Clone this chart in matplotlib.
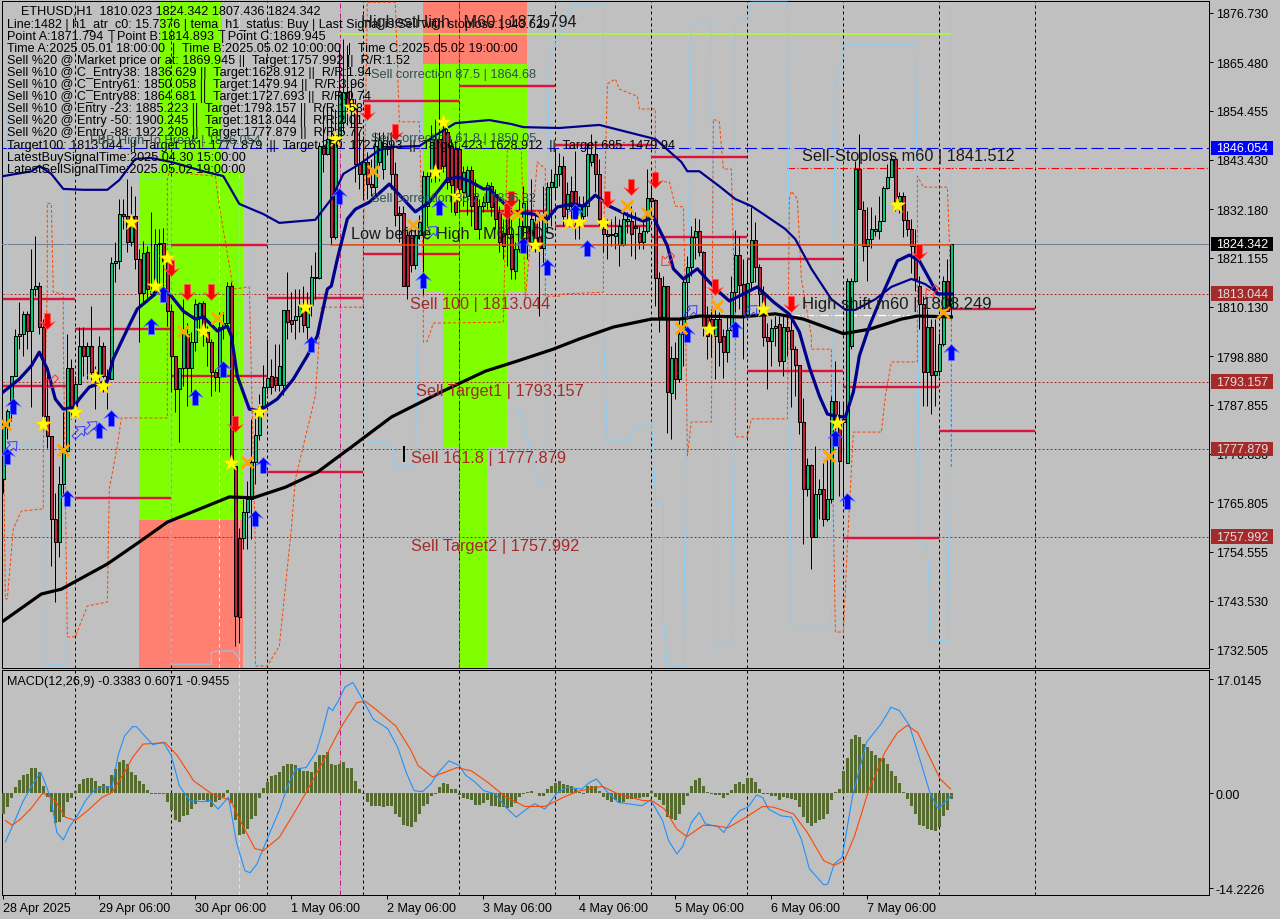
import matplotlib
matplotlib.use("Agg")
import matplotlib.pyplot as plt
from matplotlib.path import Path
from matplotlib.patches import Rectangle
from matplotlib.transforms import Affine2D, blended_transform_factory

plt.rcParams['font.family'] = ['Liberation Sans', 'DejaVu Sans']
NA = float('nan')

# ---------- candles: (open, high, low, close), one list per stretch of the chart ----------
candles_apr28 = [
(1771,1784,1768,1783),(1782.8,1786.9,1780.1,1786.5),(1786.5,1794.5,1784.3,1794.5),(1794.5,1805,1794.5,1803.5),
(1803.5,1811.1,1800.5,1803.9),(1803.9,1809.2,1799,1808.4),(1808.4,1809.2,1800.5,1804.6),(1804.6,1823.1,1787.3,1814.2),
(1814.2,1826.2,1812.6,1814.7),(1814.8,1815.6,1803.9,1805.4),(1805.4,1807.3,1785.4,1785.4),(1785.4,1796,1778.2,1780.9),
(1780.9,1780.9,1751.4,1762),(1762,1768,1743.1,1756.7),(1756.7,1774.1,1753.3,1769.9),(1769.9,1786.2,1767.7,1777.5),
(1777.5,1803.9,1777.1,1796.3),(1796.3,1798.2,1784.6,1787.7),(1787.7,1794.5,1786.2,1792.6),(1792.6,1805.4,1792.6,1801.1),
(1801.1,1805.4,1794.5,1799),(1799,1802,1793.7,1801.1),(1801.1,1810.3,1792.2,1795.2),(1795.2,1796.7,1786.9,1793.7),
]
candles_apr29 = [
(1794.5,1803.5,1792.2,1801.1),(1801.1,1802,1790.7,1794.5),(1794.5,1796,1786.9,1793.7),(1793.7,1821.3,1793.7,1820.1),
(1820.1,1824.7,1815.6,1820.5),(1820.5,1834.5,1818.6,1831.2),(1831.2,1834.5,1827.7,1830.7),(1830.7,1839,1822.4,1824.7),
(1824.7,1837.5,1823.9,1830.7),(1830.7,1835.2,1818.6,1820.9),(1820.9,1823.1,1802,1813.3),(1813.3,1825,1811.1,1822.2),
(1822.4,1823.9,1811.1,1814.1),(1812.9,1831.5,1812.6,1813.7),(1813.3,1827.7,1812.9,1824.3),(1824.3,1827.7,1814.8,1824.5),
(1824.5,1828,1814.1,1820.5),(1820.5,1821.6,1805.8,1809.2),(1809.2,1810.7,1790.7,1799),(1799,1799,1786.2,1791.4),
(1791.4,1796.3,1779.4,1796.3),(1796.3,1811.8,1792.2,1804.3),(1803.9,1806.5,1787.7,1796.3),(1796.3,1804.3,1790.7,1802),
]
candles_apr30 = [
(1802,1811.8,1800.1,1810.7),(1807.7,1811.1,1804.3,1810.9),(1810.9,1811.4,1801.3,1804.3),(1804.3,1805.8,1796.7,1802),
(1802.2,1802.8,1789.9,1795.4),(1795.4,1796,1791.1,1794.1),(1794.1,1808.8,1790.7,1805.4),(1805.4,1808.8,1802.8,1806.4),
(1806.4,1815.6,1805.8,1814.7),(1814.7,1815.6,1774.1,1774.1),(1774.1,1774.1,1733.3,1740.1),(1757.8,1760,1734,1739.7),
(1757.8,1766.5,1755.2,1763.5),(1763.5,1770.7,1755.2,1766.5),(1766.5,1784.6,1757.5,1775),(1775,1787,1770,1781),
(1781,1790.3,1780,1787.5),(1787.5,1797,1785,1792),(1792,1802.7,1790.3,1794),(1794.5,1798.3,1790.3,1792),
(1794.2,1801.6,1791,1792.4),(1792.4,1801.6,1791,1796.6),(1792.4,1809.3,1790,1809.3),(1809.3,1817.9,1802.8,1806.6),
]
candles_may01 = [
(1807,1813.4,1804.4,1806.2),(1807,1814.2,1802.8,1808.1),(1808.1,1814.2,1804.4,1810.4),(1810.4,1814.9,1804.4,1805.9),
(1805.5,1813.4,1802.8,1810.4),(1810.4,1819.5,1808.1,1816.8),(1816.8,1822.5,1811.9,1816.6),(1816.6,1847.4,1816.4,1846.6),
(1846.6,1855.7,1840.6,1844.6),(1844.6,1855.7,1844.4,1848.2),(1848.2,1855.7,1824,1825.9),(1825.9,1855,1825.5,1848.2),
(1848.2,1868.5,1846.6,1858.7),(1851.9,1870.8,1849.7,1858.7),(1858.7,1869.3,1851.2,1855.7),(1857.2,1861,1850.8,1855),
(1855,1857.2,1838.3,1842.5),(1842.5,1849.7,1836.8,1840.2),(1840.2,1848.9,1834.6,1842.9),(1842.9,1845.1,1834.6,1838),
(1838,1843.6,1835.3,1837.2),(1837.2,1849.7,1835.3,1846.6),(1842.9,1849.7,1842.1,1847.8),(1841.4,1849.7,1839.1,1846.6),
]
candles_may02 = [
(1846.6,1848.9,1844.4,1845.9),(1846.3,1849.7,1836.8,1840.2),(1840.2,1842.9,1828.5,1830.8),(1831.4,1833,1824.7,1831),
(1831.4,1833,1814.9,1814.9),(1826.3,1827.8,1811.9,1814.9),(1826.3,1828.5,1818,1819.5),(1819.5,1827.8,1818.7,1826.3),
(1826.3,1830.8,1825.5,1829.3),(1826.3,1840.9,1812.7,1839.8),(1833,1840.6,1828.5,1839.8),(1839.8,1851.2,1838.3,1848.2),
(1848.2,1852.7,1838.3,1840.6),(1848.2,1871.8,1838.7,1841),(1850.4,1852.7,1840.6,1842.1),(1849.7,1851.2,1836.8,1838.3),
(1846.6,1848.2,1831.5,1837.6),(1845.9,1846.6,1830.8,1831.5),(1845.9,1846.6,1831.5,1836.8),(1836,1842.1,1833,1840.6),
(1835.3,1842.1,1830.8,1841),(1841,1842.1,1828.5,1833),(1835.3,1839.1,1827.8,1827.8),(1827.8,1834.6,1825.5,1833),
]
candles_may03 = [
(1833,1835.3,1831.5,1833.8),(1833.8,1838.3,1832.3,1837.6),(1837.5,1838.3,1830.7,1832.6),(1835.6,1836.7,1827.7,1830),
(1831.5,1833,1822.4,1824.7),(1826.9,1829.9,1820.9,1823.9),(1830.7,1832.2,1819.4,1826.6),(1826.6,1829.9,1816.4,1818.6),
(1818.3,1824.7,1816.4,1823.2),(1823.2,1834.5,1822.4,1828.4),(1828.4,1837.5,1826.2,1833.7),(1828.4,1834.5,1820.9,1824.3),
(1824.7,1839,1823.2,1829.9),(1829.2,1831.5,1822.4,1824.7),(1825.8,1831.5,1808.1,1823.5),(1823.5,1837.5,1820.1,1829.9),
(1829.9,1838.3,1826.9,1837.3),(1837.3,1841.3,1828.4,1838.3),(1837.3,1845.8,1834.5,1840.1),(1840.1,1845,1837.5,1842),
(1842,1844.3,1828.4,1830.7),(1832.2,1838.3,1830,1835.6),(1836.4,1839.8,1829.2,1833),(1836.4,1845.4,1825.4,1832.2),
]
candles_may04 = [
(1829.9,1835.2,1825.4,1833),(1830.7,1835.2,1829.2,1833),(1833,1847.3,1830.7,1844.7),(1842.8,1849.2,1842,1844.7),
(1844.7,1846.6,1836,1840.1),(1840.1,1843.5,1827.7,1829.9),(1827.7,1829.9,1822.4,1826.6),(1826.6,1829.9,1820.9,1826.2),
(1826.6,1829.9,1823.9,1826.3),(1826.2,1830.7,1823.2,1826.9),(1824,1829.9,1819.4,1828.4),(1824,1831.5,1823.9,1829.9),
(1829.6,1831.5,1826.9,1829.9),(1829.6,1833,1821.6,1826.6),(1828.4,1831.5,1820.9,1828),(1826.7,1828.4,1823.2,1824.7),
(1824.7,1829.9,1823.2,1827.3),(1827.3,1841.3,1826.9,1834.7),(1834.7,1837.5,1829.9,1834.1),(1834.3,1834.5,1810.3,1816.7),
(1816.7,1817.9,1804.3,1807.7),(1807.7,1817.1,1807.3,1814.8),(1814.8,1814.8,1781.6,1790.7),(1790.5,1801.3,1780.1,1798.4),
]
candles_may05 = [
(1798.4,1802,1789.2,1793.7),(1793.7,1807.3,1793,1803.9),(1803.9,1816.4,1796.7,1815.6),(1815.6,1821.6,1807.3,1819),
(1819,1828.4,1817.1,1825.8),(1825.8,1830.3,1820.9,1827.3),(1827.3,1829.9,1821.6,1822.4),(1822.4,1822.8,1803.5,1805.8),
(1808.1,1810.3,1798.2,1803.5),(1807.3,1809.6,1798.6,1805.8),(1803.5,1809.6,1793.7,1807.3),(1807.3,1808.8,1796.7,1802),
(1803.5,1805,1794,1799.9),(1799.9,1808,1797.5,1804.8),(1804.8,1817.1,1804.6,1813.5),(1813.5,1827.6,1808.8,1821.8),
(1821.8,1826.1,1809.5,1815),(1815.2,1820.9,1798.2,1808),(1808,1820.9,1807.3,1815.4),(1815.6,1832.6,1814.1,1825.2),
(1825.2,1829.2,1815.6,1819.2),(1819.2,1819.7,1808,1812.9),(1812.9,1814.8,1801.2,1803.3),(1803.3,1806.5,1791.4,1802.4),
]
candles_may06 = [
(1802.4,1807.3,1796.7,1805.2),(1805.2,1808,1801.2,1805.8),(1806.1,1808,1796.7,1797.8),(1797.8,1808,1794.4,1805.4),
(1805.4,1808,1799,1804.6),(1804.8,1808,1787.3,1800.5),(1800.5,1801.2,1789.9,1796.8),(1796.8,1797,1781.2,1783.9),
(1783.9,1789.5,1756.3,1768.8),(1768.9,1775.9,1767.2,1774.2),(1774.2,1774.4,1750.6,1758),(1758,1778.6,1758,1767.6),
(1767.6,1771,1762,1768.9),(1768.9,1774.8,1760.5,1762),(1762,1776.3,1761.6,1766.6),(1766.6,1789.9,1765.7,1788.8),
(1788.8,1797.8,1780.8,1783.9),(1783.9,1788.8,1767.2,1775.2),(1784.6,1788.4,1765.7,1783.9),(1774.8,1816.7,1774.8,1815.9),
(1801.2,1816.7,1800.5,1815.9),(1815.9,1843.1,1815.6,1841.4),(1841.4,1849.2,1832.2,1832.2),(1832,1834,1820.5,1823.9),
]
candles_may07 = [
(1823.9,1832.6,1815.9,1825.4),(1825.4,1832.6,1823.5,1827.7),(1827.3,1831,1826.1,1827.7),(1827.3,1835.2,1825.4,1829.5),
(1829.5,1837.5,1829.5,1837.1),(1837.1,1842.4,1836.7,1839.5),(1839.5,1844.6,1839.5,1843.5),(1843.5,1843.5,1831.8,1834.1),
(1834.1,1836,1831.4,1835.2),(1835.2,1836,1825.8,1829.8),(1829.8,1831.8,1826.1,1827.8),(1827.8,1829.9,1817.8,1823.9),
(1823.9,1827.7,1813.7,1816.3),(1814.8,1817.1,1805,1810.7),(1810.7,1812.5,1787.6,1795.2),(1795.2,1809.5,1787.6,1805.4),
(1805.4,1807.3,1785.7,1794.6),(1794.6,1807.3,1787.6,1795.6),(1795.6,1804.2,1794.4,1801.6),(1801.6,1817.1,1801.2,1816),
(1816,1820.9,1809.2,1809.2),(1810.023,1824.342,1807.436,1824.342),
]
candles = (candles_apr28 + candles_apr29 + candles_apr30 + candles_may01 + candles_may02
           + candles_may03 + candles_may04 + candles_may05 + candles_may06 + candles_may07)

# ---------- indicator lines: (bar, price) ----------
upper_band = [(0,1839.7),(7,1840.8),(9,1842),(12,1840.2),(15,1836.8),(20,1836.6),(26,1836.6),(29,1838.8),(33,1843.6),(37,1843.8),
(42,1842.9),(50,1840.8),(55,1839.7),(59,1833.4),(65,1831.1),(69,1829.1),(78,1829.8),(82,1834.5),(85,1840.2),(89,1842.4),
(94,1845.6),(97,1846.3),(104,1846.5),(108.5,1849.2),(113,1851.7),(121.5,1852.4),(127,1851.5),(130,1850.8),(139,1850.6),(149,1851.3),
(159,1849),(163,1848.1),(169.5,1842.9),(171,1840.8),(174,1840.8),(179,1837.4),(183,1834.5),(187,1832.9),(190,1831.1),(195.5,1827.7),
(198,1825.4),(202,1818.7),(207,1811.8),(210.5,1809.4),(213,1809.4),(218,1811.8),(222,1814.6),(227,1816.4),(230.5,1815.2),(234,1813),(237,1813)]
tema_line = [(0,1790.8),(4,1793.7),(7,1796.7),(9,1799.8),(11,1796),(13,1789.2),(15,1786.9),(17.5,1787.2),(19,1789.2),(21.5,1791.9),
(26,1793.3),(27.5,1798.3),(31,1805),(33.5,1809.6),(38,1813),(40,1814.1),(42,1812.5),(45,1809.1),(48,1807.3),(50,1807.8),
(53.5,1804.6),(56,1805.7),(57,1803.5),(58.5,1794.4),(61.5,1786.9),(64,1786.5),(68.5,1789.2),(72.5,1793.7),(76,1799),(78.5,1803.5),
(81,1814.1),(82,1814.8),(83.5,1820.9),(86,1830),(88,1832.2),(91.5,1833.8),(96.5,1837.9),(100,1834.5),(103,1831.6),(106.5,1833.8),
(111,1839),(113.5,1839.5),(116.5,1838.6),(120,1836.8),(121.5,1836.8),(124,1834.5),(127.5,1831.6),(132.5,1831.1),(136,1830),(138.5,1832.7),
(142.5,1833.4),(145,1832.9),(148,1835.4),(151.5,1832.9),(156.5,1830.7),(160,1829.5),(162.5,1830.4),(166,1823.9),(167.5,1818.7),(170,1816.4),
(173.5,1818.7),(176.5,1815.7),(179,1813.4),(181.5,1811.4),(188.5,1814.6),(192.5,1811.2),(196.5,1808.4),(199,1804.4),(201.5,1796.4),(204,1789.9),
(206,1785.8),(208,1785.3),(210.5,1785.1),(212.5,1790.8),(214,1799),(216.5,1805.7),(220,1813.4),(223.5,1820.5),(226.5,1821.8),(229,1820.5),
(231.5,1816.4),(233.5,1813),(237,1813)]
slow_ma = [(0,1738.9),(9.5,1745),(14.5,1746.1),(26,1751.8),(34,1756.8),(41,1761.3),(56.5,1767),(62.5,1766.8),(70.5,1769.2),(78.5,1772.6),
(87,1778.3),(97,1785.1),(109.5,1790.8),(120.5,1795.5),(128.5,1797.8),(137.5,1800.5),(144,1802.8),(152.5,1805.5),(162,1807.3),(169,1807.3),
(174,1808),(184.5,1807.8),(193,1808.5),(200,1807.3),(210,1804),(216.5,1805),(224.5,1807.3),(228.5,1808),(237,1807.8)]
orange_steps = [(0,1784.7),(0.5,1743.9),(1,1743.9),(2.5,1759.7),(4.5,1763.8),(10,1764.3),(10,1778.5),(11,1814.1),(11,1833.6),(12,1833.4),
(12.5,1813.4),(15,1813),(15,1802.8),(16,1735.3),(18,1735.3),(21,1742.3),(26,1743.2),(26.5,1768.8),(28.5,1778.5),(29.5,1784.9),
(41,1784.9),(41,1839),(41.5,1840.6),(53,1839.7),(54,1832.9),(57.5,1814.1),(61.5,1814.6),(63,1755.9),(63,1728.7),(66,1728.7),
(69,1733.2),(72,1759.7),(73,1771),(78,1789.9),(79.5,1810),(90,1810),(90,1823.2),(91,1879.1),(98,1879.1),(99,1852),
(104,1852),(105,1818),(105,1802.1),(106,1802.3),(107.5,1806.4),(125,1806.6),(126,1845.8),(129.5,1845.8),(130.5,1811.8),(133.5,1842.9),
(135.5,1841.3),(135.5,1812.5),(139,1812.5),(140,1813),(150,1813.4),(150,1823.2),(151,1860.6),(153,1861.7),(154,1859.4),(158.5,1857.8),
(159,1854.9),(163,1854.9),(163,1838.4),(166.5,1838.4),(168,1832.9),(170,1832.7),(170.5,1813.4),(171,1776.3),(172,1784),(177,1784),
(177.5,1852.6),(179,1852),(180,1841.3),(182,1841.3),(183,1806.6),(183,1780.6),(186,1780.6),(187,1784.7),(196,1784.7),(196.5,1834.5),
(197,1836.3),(198.5,1834.5),(199.5,1816.4),(202,1803.5),(202,1800.5),(207,1800.5),(207,1789.2),(208,1736.4),(210,1736.4),(211,1755.9),
(212.5,1781.7),(219.5,1781.7),(220.5,1789.9),(222,1797.6),(228.5,1797.6),(228.5,1839.7),(230,1837.2),(236,1837.2),(237,1811.8),(237,1795.3),(237,1773.4)]
blue_steps = [(1,1857.2),(1,1779),(10.5,1779),(10.5,1729.1),(15.5,1729.1),(15.5,1839),(42,1839),(42,1729.1),(52,1729.1),(52,1731.8),
(53.5,1732.1),(57.5,1732.1),(59,1730.3),(59,1839),(62,1839),(62,1729.1),(64.5,1729.1),(NA,NA),(91,1857.2),(91,1779.4),(97,1779.4),
(98,1774),(103,1774),(104,1834.5),(104.5,1857.2),(NA,NA),(126,1786.9),(129,1786.9),(134,1769.5),(135.5,1769.5),
(135.5,1805),(136.5,1866.7),(142.5,1878.7),(150,1878.7),(150,1805),(151,1779.7),(156.5,1779.7),(157.5,1782.4),(162,1784),(163,1768.1),
(163,1765.8),(165,1765.8),(165,1739.3),(166,1728.5),(170,1728.5),(171,1805),(172,1874.2),(177,1874.2),(177.5,1802.8),(177.5,1733.7),
(182,1733.7),(183,1834.5),(183,1874.8),(186,1874.8),(187,1879.1),(196,1879.1),(197,1737.8),(207,1737.8),(207.5,1811.8),(208,1859.9),
(210.5,1869.6),(228,1869.6),(228.5,1834.5),(229,1756.8),(231,1755.9),(232,1734.4),(236,1734.4),(237,1799),(237,1878.2)]

# ---------- daily target segments: (start bar, end bar, price) ----------
target_segments = [(0,18,1811.8),(0,18,1792.1),(18,42,1805),(18,42,1766.8),(42,66,1824.1),(42,66,1794.4),(66,90,1812.1),(66,90,1772.6),
(90,114,1856.7),(90,114,1822),(114,138,1860.1),(114,138,1831.8),(138,162,1846.7),(138,162,1828.4),(162,186,1844),(162,186,1825.9),
(186,210,1820.9),(186,210,1795.5),(210,234,1791.9),(210,234,1757.7),(234,258,1809.6),(234,258,1781.9)]

# ---------- signal markers: (bar, price) ----------
star_points = [(10,1783.5),(18,1786.2),(23,1794.2),(25,1792.1),(32,1829.3),(38,1814.8),(41,1821.1),(50,1804.6),(57,1774.7),(64,1786.2),
(75.5,1810),(83,1848.1),(87,1855.4),(108,1840.6),(110,1852),(113.5,1835.2),(133,1824.1),(141.5,1829.3),(144,1829.3),(150,1829.1),
(176.5,1805),(190,1809.6),(208.5,1783.7),(223.5,1833.2)]
cross_points = [(0.5,1783.5),(15,1777.6),(45,1804.6),(53.5,1807.5),(61,1774.9),(92.5,1840.8),(102.5,1828.6),(128.5,1831.1),(134.5,1830.4),
(156,1832.9),(161,1831.3),(169.5,1805.3),(178.5,1810.3),(206.5,1776.3),(235,1808.9)]
down_arrows = [(11,1806.9),(42,1818.9),(46,1813.4),(52,1813.4),(58,1783.5),(91,1854.2),(98,1849.7),(126,1831.8),(127,1834.5),(151,1834.5),
(157,1837.2),(163,1838.8),(178,1814.6),(197,1810.7),(229,1822.5)]
up_arrows = [(1,1776.3),(2.5,1787.6),(16,1766.8),(24,1782.2),(27,1784.9),(37,1805.7),(40,1813),(48,1789.6),(55,1796),(63,1762.2),(65,1774.2),
(77,1801.7),(84,1835.2),(105,1816.2),(109,1832.7),(130,1824.1),(136,1819.1),(143,1831.6),(146,1823.4),(171,1803.9),(183,1805),(208,1780.4),
(211,1766.1),(237,1799.8)]
hollow_up = [(2,1778.3),(19,1781.7),(22,1782.8),(107,1827),(172,1809.1),(187,1809.1)]
hollow_down = [(12,1793),(166,1820.7),(232,1813.4)]

# ---------- zones: (bar start, bar end, price low, price high) ----------
green_zones = [(38.9,54.7,1840.6,1879.4),(33.9,59.9,1761.8,1840.6),(104.9,130.9,1813.4,1865.1),(109.9,125.9,1778.3,1813.4),(113.9,120.9,1728.2,1778.3)]
salmon_zones = [(33.9,59.9,1728.2,1761.8),(104.9,130.9,1865.1,1879.4)]

# ---------- price levels ----------
level_prices = [1813.044, 1793.157, 1777.879, 1757.992]
blue_level = 1846.054
last_price = 1824.342
stop_price = 1841.512
bos_price = 1824.1
highest_price = 1871.9
shift_price = 1808.249
price_ticks = [1876.730,1865.480,1854.455,1843.430,1832.180,1821.155,1810.130,1798.880,1787.855,1776.830,1765.805,1754.555,1743.530,1732.505]

# ---------- MACD ----------
hist_a = [-3.1,-2.1,-0.8,0.85,1.9,2.7,2.8,3.7,3.7,3.1,1.1,-0.6,-2.9,-4.4,-4.3,-3.6,-1.4,-0.8,0.25,1.4,2.1,2.3,2.2,1.8,
1.1,1.3,1,2.7,3.6,4.6,5,4.3,3.1,2.7,1.8,1.3,0.5,-0.15,-0.1,-0.1,-0.2,-1.3,-2.6,-4.1,-4.3,-3.5,-3.3,-2.4,
-1.6,-1.1,-1,-1.4,-2.1,-1.4,-1.1,-0.6,0.5,-1.5,-4.1,-6.3,-6.1,-5.3,-3.9,-3.4,-0.8,0.7,1.7,2.5,2.7,3.2,4.1,4.3,
4.3,4.2,3.8,3.3,3.3,3.1,4.6,5.7,5.7,6.1,4.3,4.2,4.3,4.7,3.8,3.8,1.8,0.6,-0.1,-1.4,-2,-2,-1.9,-2.1,
-1.9,-2,-3.1,-3.6,-4.8,-4.9,-5,-4.3,-3.1,-2,-1.6,-0.4,-0.1,0.85,1.5,1.3,0.6,0.6,-0.3,-0.8,-0.9,-1,-1.8,-1.8,
-1.5,-1.1,-1.9,-2,-2.1,-2.1,-2.3,-2.1,-1.5,-0.6,-0.1,0.1,0.35,0,-0.4,-0.4,0.6,1.1,1.5,1.8,1.3,1.2,1.1,0.6,
0.1,-0.1,1,1.1,1.1,0.35,-0.6,-1.1,-1.3,-1,-1.5,-1.3,-0.9,-0.9,-0.8,-0.7]
hist_b = [-0.6,-0.6,0.35,-0.6,-1,-1.8,-3.6,-3.9,-4.1,-3.1,
-1.8,-0.4,1,2,2.2,1.1,0.2,-0.15,-0.25,-0.3,
-0.8,-0.3,0.45,1.4,1.6,1.3,2.2,2.3,1.7,0.6,
-0.1,-0.15,-0.5,-0.5,-1.1,-0.6,-0.8,-0.9,-1.1,-2.1,
-3.6,-4.4,-4.9,-4.4,-4.1,-3.9,-3.1,-1,0.1,0.6,
3.3,5.3,8,8.6,8.3,7.3,6.9,6.3,5.6,5.3,
5.2,4.3,3.3,2.5,1.5,0.2,-0.9,-1.9,-3.1,-4.8,
-4.9,-5.3,-5.5,-5.7,-5,-3.5,-2.6,-0.9455]
macd_hist = hist_a + hist_b
macd_line = [(0.5,-7.3),(2.7,-4.4),(4.8,-1.4),(7.3,1.3),(9.4,3.1),(10.4,1.6),(11.9,-0.9),(13.4,-5.9),(15,-7),(16.5,-5.1),(18.5,-3.4),(20.6,-1.1),
(22.6,0.35),(24.7,0.85),(27.2,1),(28.7,5.6),(30.3,8.5),(32.3,9.9),(33.3,9.9),(34.9,8.8),(37.4,7.2),(40,7.6),(42,5.6),(44,1.1),(46.6,-1.1),
(49.7,-1.3),(51.7,-1.1),(53.7,-2.4),(56.3,-0.6),(58.3,-7.4),(60.4,-11.6),(61.7,-11.9),(63.4,-10.6),(66.5,-6.1),(69,-2.6),(71.1,1.1),(73.1,3.6),
(75.7,3.8),(78.2,6.1),(79.8,9.3),(81.3,12.8),(82.3,12.3),(83.8,13.8),(85.4,15.8),(87.4,16.5),(89.5,14.3),(92.5,11),(96.1,9.6),(98.6,6.8),
(100.7,3.1),(102.7,0.35),(104.8,0.2),(106.8,1.3),(108.8,3.1),(111.4,4.8),(114,4.1),(115.5,2.7),(118,1.6),(120.1,0.35),(123.1,-0.15),(125.2,-1.9),
(128.2,-3.6),(130.8,-2.4),(132.8,-1.6),(135.4,-2.4),(138.4,0),(141,0.85),(144.6,0.6),(146.6,1.6),(148.3,2.1),(150.7,0.35),(153.7,-1.4),(159.7,-1.9),
(161.8,-1),(164.8,-4.1),(166.3,-7.1),(168.4,-9.1),(169.9,-7.9),(172,-4.4),(174,-2.9),(175.5,-4.6),(178.6,-5),(180.1,-5.9),(182.2,-3.9),(184.2,-2.6),
(186.2,-2.1),(188.3,-0.3),(189.8,-0.65),(191.3,-2.4),(194.4,-3.4),(197,-3.6),(199.5,-6.9),(201.5,-11.3),(205.1,-13.7),(206.1,-13.6),(207.7,-10.6),
(209.7,-9.6),(212.3,-0.4),(215.8,7.6),(219.4,10.3),(221.9,12.8),(224,12.3),(226.5,10.1),(229.6,4.1),(231.6,0.1),(233.7,-2.4),(237,-0.34)]
signal_line = [(0.5,-4.1),(2.2,-4.8),(4.3,-3.9),(6.8,-2.4),(9.9,0),(12.9,-1.1),(15.5,-3.6),(18,-4.1),(21.1,-2.6),(24.7,-0.65),(27.2,0.1),(30.3,3.1),
(32.3,5.3),(34.9,7.3),(40.5,7.5),(43.5,5.6),(47.6,1.8),(52.2,-0.15),(56.8,-1.1),(59.9,-4.9),(62.9,-8.3),(65,-8.6),(69,-6.6),(73.1,-2.6),(75.7,0.1),
(80.3,5.1),(84.4,9.8),(88.4,13.5),(90.5,13.7),(93.5,12.3),(98.1,10),(101.7,6.6),(103.7,4.1),(107.3,2.4),(110.4,3.1),(113.4,3.8),(117,3.3),(121.1,1.6),
(125.2,-0.4),(130.3,-2),(135.4,-2),(140,-0.65),(143.5,0.25),(149.7,1),(153.7,-0.15),(159.7,-1.1),(162.3,-1.2),(165.3,-2.4),(168.4,-5.4),(170.9,-6.5),
(175,-4.8),(178.1,-4.9),(181.1,-5.2),(185.7,-3.6),(189.8,-2),(192.4,-2.1),(197.5,-3.1),(201,-5.9),(205.1,-10.1),(207.7,-10.8),(210.2,-10.1),(212.8,-6.4),
(216.3,0.35),(220.4,6.1),(223.5,9),(226,10.1),(228.6,9),(231.6,5.3),(234.2,2.1),(236.8,0.6)]
macd_ticks = [17.0145, 0.0, -14.2226]
macd_tick_labels = ['17.0145', '0.00', '-14.2226']

# ---------- time axis ----------
day_ticks = [0, 24, 48, 72, 96, 120, 144, 168, 192, 216]
day_labels = ['28 Apr 2025', '29 Apr 06:00', '30 Apr 06:00', '1 May 06:00', '2 May 06:00',
              '3 May 06:00', '4 May 06:00', '5 May 06:00', '6 May 06:00', '7 May 06:00']
grid_bars = [18, 42, 66, 90, 114, 138, 162, 186, 210, 234, 258]

# ---------- texts ----------
header_line = "ETHUSD,H1  1810.023 1824.342 1807.436 1824.342"
info_text = [
 "Line:1482 | h1_atr_c0: 15.7376 | tema_h1_status: Buy | Last Signal is:Sell with stoploss:1943.629",
 "Point A:1871.794  | Point B:1814.893  | Point C:1869.945",
 "Time A:2025.05.01 18:00:00  |  Time B:2025.05.02 10:00:00  |  Time C:2025.05.02 19:00:00",
 "Sell %20 @ Market price or at: 1869.945 ||  Target:1757.992 ||  R/R:1.52",
 "Sell %10 @ C_Entry38: 1836.629 ||  Target:1628.912 ||  R/R:1.94",
 "Sell %10 @ C_Entry61: 1850.058 ||  Target:1479.94 ||  R/R:3.96",
 "Sell %10 @ C_Entry88: 1864.681 ||  Target:1727.693 ||  R/R:0.74",
 "Sell %10 @ Entry -23: 1885.223 ||  Target:1793.157 ||  R/R:1.58",
 "Sell %20 @ Entry -50: 1900.245 ||  Target:1813.044 ||  R/R:2.01",
 "Sell %20 @ Entry -88: 1922.208 ||  Target:1777.879 ||  R/R:5.77",
 "Target100: 1813.044  ||  Target 161: 1777.879  ||  Target 250: 1727.693  ||  Target 423: 1628.912  ||  Target 685: 1479.94",
 "LatestBuySignalTime:2025.04.30 15:00:00",
 "LatestSellSignalTime:2025.05.02 19:00:00",
]
info_y = [25, 37, 49, 61, 73, 85, 97, 109, 121, 133, 146, 158, 170]
big_labels = [
 (361, 23, "HighestHigh   M60 | 1871.794", '#1a1a1a', 11.7),
 (351, 235, "Low before High   M60-BOS", '#1a1a1a', 11.7),
 (802, 157, "Sell-Stoploss m60 | 1841.512", '#1a1a1a', 11.7),
 (802, 304, "High shift m60 | 1808.249", '#1a1a1a', 12),
 (410, 304, "Sell 100 | 1813.044", '#A52A2A', 11.7),
 (416, 392, "Sell Target1 | 1793.157", '#A52A2A', 11.8),
 (411, 459, "Sell 161.8 | 1777.879", '#A52A2A', 11.8),
 (411, 547, "Sell Target2 | 1757.992", '#A52A2A', 11.8),
 (371, 75, "Sell correction 87.5 | 1864.68", '#2F4F4F', 9.2),
 (371, 139, "Sell correction 61.8 | 1850.05", '#2F4F4F', 9.2),
 (371, 199, "Sell correction 38.2 | 1836.82", '#2F4F4F', 9.2),
 (90, 141, "FBB High To Break | 1846.054", '#2F4F4F', 9.2),
]

# ---------- figure ----------
W, H = 1280, 920
BG = '#C0C0C0'
px = 0.72  # one pixel, in points, at dpi 100
fig = plt.figure(figsize=(W/100, H/100), dpi=100, facecolor=BG)
L, R = 2, 1209
ax = fig.add_axes([L/W, 1-669/H, (R-L)/W, (669-2)/H], facecolor=BG)
ax_m = fig.add_axes([L/W, 1-896/H, (R-L)/W, (896-671)/H], facecolor=BG)
xlim = (-0.325, 301.4)
ax.set_xlim(*xlim); ax_m.set_xlim(*xlim)
ax.set_ylim(1728.24, 1879.38)
ax_m.set_ylim(-15.22, 18.36)

for a in (ax, ax_m):
    for s in a.spines.values():
        s.set_color('black'); s.set_linewidth(px)
    a.yaxis.tick_right()
    a.tick_params(axis='y', length=3, width=px, pad=2, labelsize=9, colors='black')

# zones
for b0, b1, p0, p1 in green_zones:
    ax.add_patch(Rectangle((b0, p0), b1-b0, p1-p0, fc='#7FFF00', ec='none', zorder=1))
for b0, b1, p0, p1 in salmon_zones:
    ax.add_patch(Rectangle((b0, p0), b1-b0, p1-p0, fc='#FF8070', ec='none', zorder=1))

# vertical grid and event lines
for b in grid_bars:
    for a in (ax, ax_m):
        a.axvline(b, color='black', lw=px, ls=(0, (3, 3)), zorder=2)
for b in (84.2, 114):
    ax.axvline(b, color='#C71585', lw=px, ls=(0, (5, 2, 1, 2)), zorder=2)
ax_m.axvline(84.2, color='#C71585', lw=px, ls=(0, (5, 2, 1, 2)), zorder=2)
for a in (ax, ax_m):
    a.axvline(59, color='#BFEFFF', lw=px, ls=(0, (4, 3)), zorder=2)
ax.axvline(54, color='#BFEFFF', lw=px, ls=(0, (4, 3)), zorder=2)

# horizontal levels
for p in level_prices:
    ax.axhline(p, color='#A52A2A', lw=px, ls=(0, (2, 2)), zorder=3)
ax.axhline(blue_level, color='#0000FF', lw=1.1*px, ls=(0, (11, 4)), zorder=3)
ax.axhline(last_price, color='#708090', lw=px, zorder=3)
ax.plot([196, xlim[1]], [stop_price]*2, color='#FF0000', lw=1.1*px, ls=(0, (7, 2, 1, 2)), zorder=3)
ax.plot([84, 237], [highest_price]*2, color='#ADFF2F', lw=1.5*px, zorder=3)
ax.plot([197, 237], [shift_price]*2, color='white', lw=1.2*px, ls=(0, (7, 2, 1, 2)), zorder=3)

# stepped thin lines
ax.plot(*zip(*blue_steps), color='#87CEFA', lw=px, zorder=3.5)
ax.plot(*zip(*orange_steps), color='#FF4500', lw=px, ls=(0, (3, 2)), zorder=3.5)

# targets
for b0, b1, p in target_segments:
    ax.plot([b0, b1], [p, p], color='#DC143C', lw=2.4*px, solid_capstyle='butt', zorder=3.8)

# candles
bars = list(range(len(candles)))
opens, highs, lows, closes = zip(*candles)
ax.vlines(bars, lows, highs, color='black', lw=px, zorder=4)
body_bottom = [min(o, c) for o, c in zip(opens, closes)]
body_height = [abs(o-c) for o, c in zip(opens, closes)]
body_color = ['#00C878' if c >= o else '#C8203C' for o, c in zip(opens, closes)]
ax.bar(bars, body_height, width=0.62, bottom=body_bottom, color=body_color, edgecolor='black', linewidth=px, zorder=4.2)
ax.plot([82, 237], [bos_price]*2, color='#FF4500', lw=1.5*px, zorder=4.5)

# heavy lines
ax.plot(*zip(*slow_ma), color='black', lw=3.2*px, zorder=5)
ax.plot(*zip(*upper_band), color='#00008B', lw=2.2*px, zorder=5)
ax.plot(*zip(*tema_line), color='#00008B', lw=3.2*px, zorder=5)

# markers
arrow = Path([(0, 1), (0.95, 0.0), (0.38, 0.25), (0.38, -1), (-0.38, -1), (-0.38, 0.25), (-0.95, 0.0), (0, 1)], closed=True)
arrow_dn = arrow.transformed(Affine2D().rotate_deg(180))
thin = Path([(0, 1), (0.8, 0.1), (0.3, 0.1), (0.3, -1), (-0.3, -1), (-0.3, 0.1), (-0.8, 0.1), (0, 1)], closed=True)
ax.scatter(*zip(*up_arrows), marker=arrow, s=135, color='#0000FF', edgecolors='#6A7CFF', linewidths=0.5, zorder=6)
ax.scatter(*zip(*down_arrows), marker=arrow_dn, s=135, color='#FF0000', edgecolors='#FF6060', linewidths=0.5, zorder=6)
ax.scatter(*zip(*hollow_up), marker=thin.transformed(Affine2D().rotate_deg(-45)), s=110, facecolors='none', edgecolors='#3A3AFF', linewidths=0.7, zorder=6)
ax.scatter(*zip(*hollow_down), marker=thin.transformed(Affine2D().rotate_deg(-225)), s=110, facecolors='none', edgecolors='#FF3030', linewidths=0.7, zorder=6)
ax.scatter(*zip(*cross_points), marker='x', s=70, color='#FFA500', linewidths=2.0, zorder=6)
ax.scatter(*zip(*star_points), marker='*', s=150, color='#FFFF00', edgecolors='#FFC800', linewidths=0.4, zorder=6.2)
ax.vlines([100.2], 1775, 1778.5, color='black', lw=2*px, zorder=6)

# axes ticks
ax.set_xticks([])
ax.set_yticks(price_ticks)
ax.set_yticklabels([f'{p:.3f}' for p in price_ticks])

ax_m.bar(range(len(macd_hist)), macd_hist, width=0.8, color='#556B2F', zorder=3)
ax_m.plot(*zip(*macd_line), color='#1E90FF', lw=px*1.1, zorder=4)
ax_m.plot(*zip(*signal_line), color='#FF4500', lw=px*1.1, zorder=4)
ax_m.set_yticks(macd_ticks)
ax_m.set_yticklabels(macd_tick_labels)
ax_m.set_xticks(day_ticks)
ax_m.set_xticklabels(day_labels, ha='left', fontsize=9)
ax_m.tick_params(axis='x', length=3, width=px, pad=2, colors='black')

# right price boxes
boxes = [(1846.054, '#0000FF', 'white'), (1824.342, 'black', 'white'),
         (1813.044, '#A52A2A', '#E0E0E0'), (1793.157, '#A52A2A', '#E0E0E0'),
         (1777.879, '#A52A2A', '#E0E0E0'), (1757.992, '#A52A2A', '#E0E0E0')]
trans = blended_transform_factory(ax.transAxes, ax.transData)
bx0 = (1211-L)/(R-L); bw = 62/(R-L)
for p, fc, tc in boxes:
    ax.add_patch(Rectangle((bx0, p-1.65), bw, 3.3, transform=trans, fc=fc, ec='none', clip_on=False, zorder=10))
    ax.text(bx0+bw/2, p, f'{p:.3f}', transform=trans, color=tc, fontsize=9, ha='center', va='center', clip_on=False, zorder=11)

# texts
def put(xp, yp, s, color='black', size=9.1, **kw):
    fig.text(xp/W, 1-yp/H, s, color=color, fontsize=size, ha='left', va='center', zorder=20, **kw)

put(21, 12, header_line)
for y, line in zip(info_y, info_text):
    put(7, y, line, size=9.0 if line.startswith('Line') else 9.1)
for x, y, s, c, size in big_labels:
    put(x, y, s, c, size)
put(7, 682, "MACD(12,26,9) -0.3383 0.6071 -0.9455")

assert len(candles) == 238 and len(macd_hist) == 238, (len(candles), len(macd_hist))
fig.savefig('out.png', dpi=100, facecolor=BG)
